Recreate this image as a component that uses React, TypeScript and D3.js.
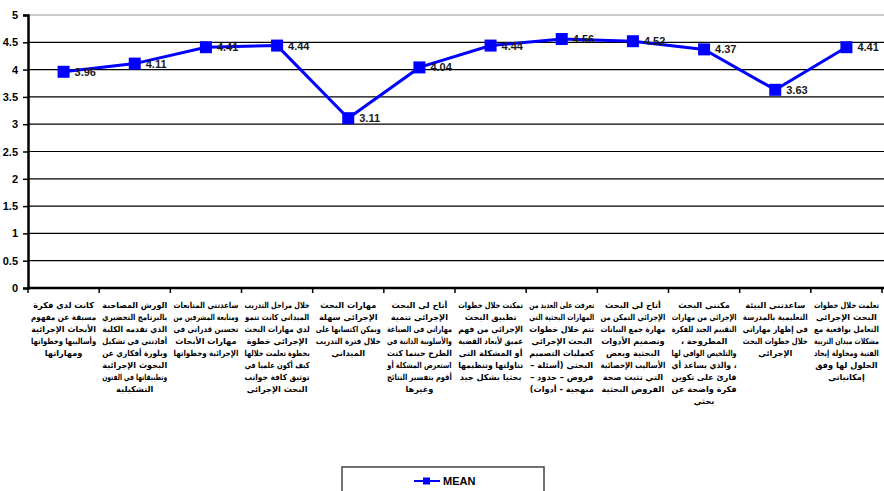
import React, { useEffect, useRef } from 'react';
import * as d3 from 'd3';

// category labels (Arabic statements), one entry per line as wrapped in the original
const categories: string[][] = [
  ['كانت لدي فكرة', 'مسبقة عن مفهوم', 'الأبحاث الإجرائية', 'وأساليبها وخطواتها', 'ومهاراتها'],
  ['الورش المصاحبة', 'بالبرنامج التحضيري', 'الذي تقدمه الكلية', 'أفادتني في تشكيل', 'وبلورة أفكاري عن', 'البحوث الإجرائية', 'وتطبيقاتها في الفنون', 'التشكيلية'],
  ['ساعدتني المتابعات', 'ومتابعة المشرفين من', 'تحسين قدراتي في', 'مهارات الأبحاث', 'الإجرائية وخطواتها'],
  ['خلال مراحل التدريب', 'الميداني كانت تنمو', 'لدي مهارات البحث', 'الإجرائي خطوة', 'بخطوة تعلمت خلالها', 'كيف أكون علميا في', 'توثيق كافة جوانب', 'البحث الإجرائي'],
  ['مهارات البحث', 'الإجرائي سهلة', 'ويمكن اكتسابها على', 'خلال فترة التدريب', 'الميداني'],
  ['أتاح لي البحث', 'الإجرائي تنمية', 'مهاراتي في الصياغة', 'والأسلوبية الذاتية في', 'الطرح حينما كنت', 'استعرض المشكلة أو', 'أقوم بتفسير النتائج', 'وغيرها'],
  ['تمكنت خلال خطوات', 'تطبيق البحث', 'الإجرائي من فهم', 'عميق لأبعاد القضية', 'أو المشكلة التي', 'تناولتها وتنظيمها', 'بحثيا بشكل جيد'],
  ['تعرفت على العديد من', 'المهارات البحثية التي', 'تتم خلال خطوات', 'البحث الإجرائي', 'كعمليات التصميم', 'البحثي (أسئلة –', 'فروض – حدود –', 'منهجية - أدوات)'],
  ['أتاح لي البحث', 'الإجرائي التمكن من', 'مهارة جمع البيانات', 'وتصميم الأدوات', 'البحثية وبعض', 'الأساليب الإحصائية', 'التي تثبت صحة', 'الفروض البحثية'],
  ['مكنني البحث', 'الإجرائي من مهارات', 'التقييم الجيد للفكرة', 'المطروحة ،', 'والتلخيص الوافي لها', '، والذي يساعد أي', 'قارئ على تكوين', 'فكرة واضحة عن', 'بحثي'],
  ['ساعدتني البيئة', 'التعليمية بالمدرسة', 'في إظهار مهاراتي', 'خلال خطوات البحث', 'الإجرائي'],
  ['تعلمت خلال خطوات', 'البحث الإجرائي', 'التعامل بواقعية مع', 'مشكلات ميدان التربية', 'الفنية ومحاولة إيجاد', 'الحلول لها وفق', 'إمكانياتي'],
];

const meanValues = [3.96, 4.11, 4.41, 4.44, 3.11, 4.04, 4.44, 4.56, 4.52, 4.37, 3.63, 4.41];
const yTicks = [0, 0.5, 1, 1.5, 2, 2.5, 3, 3.5, 4, 4.5, 5];
const seriesName = 'MEAN';

const App = () => {
  const svgRef = useRef<SVGSVGElement>(null);

  useEffect(() => {
    const svg = d3.select(svgRef.current);
    svg.selectAll('*').remove();

    const width = 884;
    const height = 491;
    const left = 28;
    const right = 882;
    const top = 15;
    const bottom = 288;

    svg.append('rect').attr('width', width).attr('height', height).attr('fill', '#fff');

    const idx = categories.map((_, i) => i);
    const x = d3.scaleBand<number>().domain(idx).range([left, right]);
    const y = d3.scaleLinear().domain([0, 5]).range([bottom, top]);

    // gridlines
    svg.append('g')
      .selectAll('line')
      .data(yTicks.filter(t => t > 0))
      .enter()
      .append('line')
      .attr('x1', left)
      .attr('x2', width)
      .attr('y1', d => y(d))
      .attr('y2', d => y(d))
      .attr('stroke', d => (d === 5 ? '#9a9a9a' : '#000'))
      .attr('stroke-width', d => (d === 5 ? 1 : 1.2));

    // y axis
    const yAxis = svg.append('g')
      .attr('transform', `translate(${left},0)`)
      .call(d3.axisLeft(y).tickValues(yTicks).tickSize(5).tickFormat(d => String(d)));
    yAxis.select('.domain').attr('stroke', '#000').attr('stroke-width', 2.5);
    yAxis.selectAll('.tick line').attr('stroke', '#000').attr('stroke-width', 1.5);
    yAxis.selectAll('.tick text')
      .attr('x', -10)
      .style('font-family', 'Arial, "Liberation Sans", sans-serif')
      .style('font-size', '11px')
      .style('font-weight', 'bold')
      .attr('fill', '#000');

    // x axis
    svg.append('line')
      .attr('x1', left).attr('x2', width)
      .attr('y1', bottom).attr('y2', bottom)
      .attr('stroke', '#000').attr('stroke-width', 2.5);
    svg.append('g')
      .selectAll('line')
      .data(idx.concat([idx.length]))
      .enter()
      .append('line')
      .attr('x1', d => left + d * x.bandwidth())
      .attr('x2', d => left + d * x.bandwidth())
      .attr('y1', bottom)
      .attr('y2', bottom + 5)
      .attr('stroke', '#000')
      .attr('stroke-width', 1.5);

    // category labels, squeezed horizontally when a line is wider than its slot
    const maxW = 65;
    const labels = svg.append('g');
    categories.forEach((lines, i) => {
      const cxl = (x(i) as number) + x.bandwidth() / 2;
      lines.forEach((ln, j) => {
        const g = labels.append('g');
        const t = g.append('text')
          .attr('x', 0)
          .attr('y', 0)
          .attr('text-anchor', 'middle')
          .style('direction', 'rtl')
          .style('unicode-bidi', 'embed')
          .style('font-family', '"DejaVu Sans", sans-serif')
          .style('font-size', '8.2px')
          .style('font-weight', 'bold')
          .attr('fill', '#000')
          .text(ln);
        const w = (t.node() as SVGTextElement).getBBox().width;
        const k = w > maxW ? maxW / w : 1;
        g.attr('transform', `translate(${cxl},${308 + j * 12}) scale(${k},1)`);
      });
    });

    const cx = (i: number) => (x(i) as number) + x.bandwidth() / 2;

    // line
    const line = d3.line<number>().x((_, i) => cx(i)).y(d => y(d));
    svg.append('path')
      .datum(meanValues)
      .attr('d', line)
      .attr('fill', 'none')
      .attr('stroke', '#0000ff')
      .attr('stroke-width', 3);

    // markers
    svg.append('g')
      .selectAll('rect')
      .data(meanValues)
      .enter()
      .append('rect')
      .attr('x', (_, i) => cx(i) - 6)
      .attr('y', d => y(d) - 6)
      .attr('width', 12)
      .attr('height', 12)
      .attr('fill', '#0000ff');

    // value labels
    svg.append('g')
      .selectAll('text')
      .data(meanValues)
      .enter()
      .append('text')
      .attr('x', (_, i) => cx(i) + 11)
      .attr('y', d => y(d) + 4)
      .style('font-family', 'Arial, "Liberation Sans", sans-serif')
      .style('font-size', '11px')
      .style('font-weight', 'bold')
      .attr('fill', '#1a1a1a')
      .text(d => d.toFixed(2));

    // legend
    const lg = svg.append('g');
    lg.append('rect')
      .attr('x', 342).attr('y', 467)
      .attr('width', 202).attr('height', 40)
      .attr('fill', '#fff').attr('stroke', '#444').attr('stroke-width', 1.5);
    lg.append('line')
      .attr('x1', 414).attr('x2', 440)
      .attr('y1', 481).attr('y2', 481)
      .attr('stroke', '#0000ff').attr('stroke-width', 2);
    lg.append('rect')
      .attr('x', 423).attr('y', 477.5)
      .attr('width', 7).attr('height', 7)
      .attr('fill', '#0000ff');
    lg.append('text')
      .attr('x', 443).attr('y', 485)
      .style('font-family', 'Arial, "Liberation Sans", sans-serif')
      .style('font-size', '11px')
      .style('font-weight', 'bold')
      .attr('fill', '#000')
      .text(seriesName);
  }, []);

  return (
    <div style={{ position: 'fixed', left: 0, top: 0, width: 884, height: 491, overflow: 'hidden' }}>
      <svg ref={svgRef} width={884} height={491}></svg>
    </div>
  );
};

export default App;
